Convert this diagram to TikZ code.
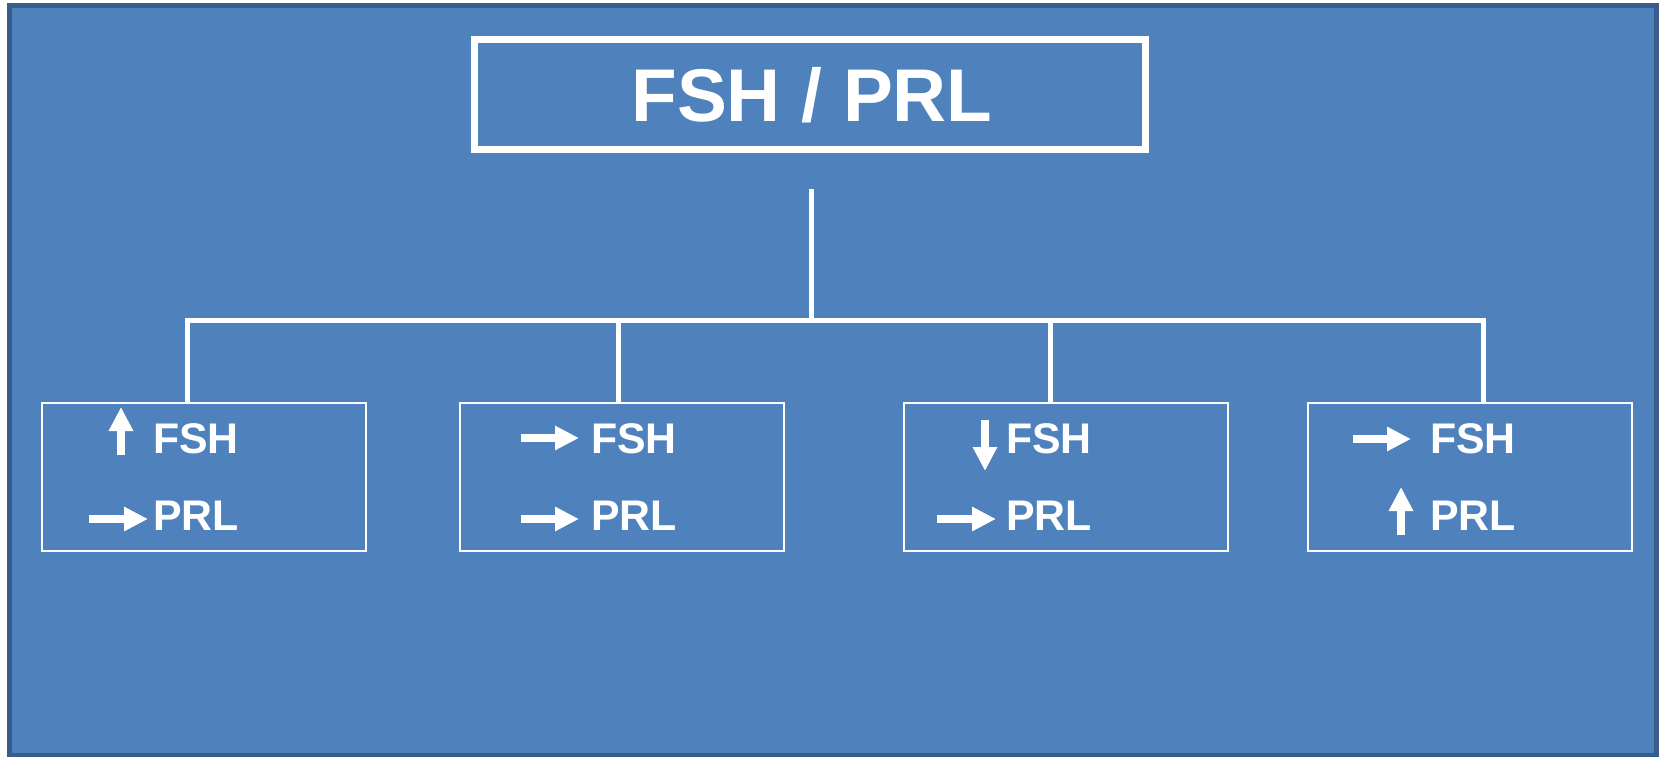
\documentclass[tikz,border=0pt]{standalone}
\usepackage{fontspec}
\setmainfont{Liberation Sans}
\usetikzlibrary{arrows.meta}
\definecolor{bgblue}{HTML}{4F81BD}
\definecolor{edgeblue}{HTML}{385D8A}
\tikzset{
  topbox/.style={draw=white, line width=7bp, minimum width=671bp, minimum height=109bp, inner sep=0,
    text=white, font=\fontsize{75}{80}\selectfont\bfseries, text height=54bp, text depth=0bp},
  subbox/.style={draw=white, line width=2bp, minimum width=324bp, minimum height=148bp, inner sep=0, anchor=north west},
  lbl/.style={text=white, font=\fontsize{43}{48}\selectfont\bfseries, inner sep=0, anchor=base west},
  conn/.style={draw=white, line width=5bp},
  fatarrow/.style={draw=white, fill=white, line width=8bp, -{Triangle[width=23bp,length=24bp]}},
}
\begin{document}
\begin{tikzpicture}[x=1bp,y=-1bp]
\useasboundingbox (0,0) rectangle (1663,757);
\fill[white] (0,0) rectangle (1663,757);
\draw[draw=edgeblue, line width=5bp, fill=bgblue] (9,6) rectangle (1656,755);

% title box
\node[topbox] (top) at (809.5,94.5) {\hspace*{5bp}FSH / PRL};

% sub boxes
\node[subbox] (b1) at (41,402) {};
\node[subbox] (b2) at (459,402) {};
\node[subbox] (b3) at (903,402) {};
\node[subbox] (b4) at (1307,402) {};

% connectors
\coordinate (t) at (811,189);
\coordinate (j) at (811,320);
\coordinate (d1) at (187,402);
\coordinate (d2) at (618,402);
\coordinate (d3) at (1050,402);
\coordinate (d4) at (1483,402);
\draw[conn] (t) -- (j);
\draw[conn] (d1) -- (d1 |- j) -- (d4 |- j) -- (d4);
\draw[conn] (d2 |- j) -- (d2);
\draw[conn] (d3 |- j) -- (d3);

% labels
\node[lbl] (f1) at (153,453) {FSH};
\node[lbl] (p1) at (153,530) {PRL};
\node[lbl] (f2) at (591,453) {FSH};
\node[lbl] (p2) at (591,530) {PRL};
\node[lbl] (f3) at (1006,453) {FSH};
\node[lbl] (p3) at (1006,530) {PRL};
\node[lbl] (f4) at (1430,453) {FSH};
\node[lbl] (p4) at (1430,530) {PRL};

% trend arrows
\draw[fatarrow] (121,455) -- (121,407);
\draw[fatarrow] (89,519) -- (148,519);
\draw[fatarrow] (521,438) -- (579,438);
\draw[fatarrow] (521,519) -- (579,519);
\draw[fatarrow] (985,420) -- (985,471);
\draw[fatarrow] (937,519) -- (996,519);
\draw[fatarrow] (1353,439) -- (1411,439);
\draw[fatarrow] (1401,535) -- (1401,487);
\end{tikzpicture}
\end{document}
